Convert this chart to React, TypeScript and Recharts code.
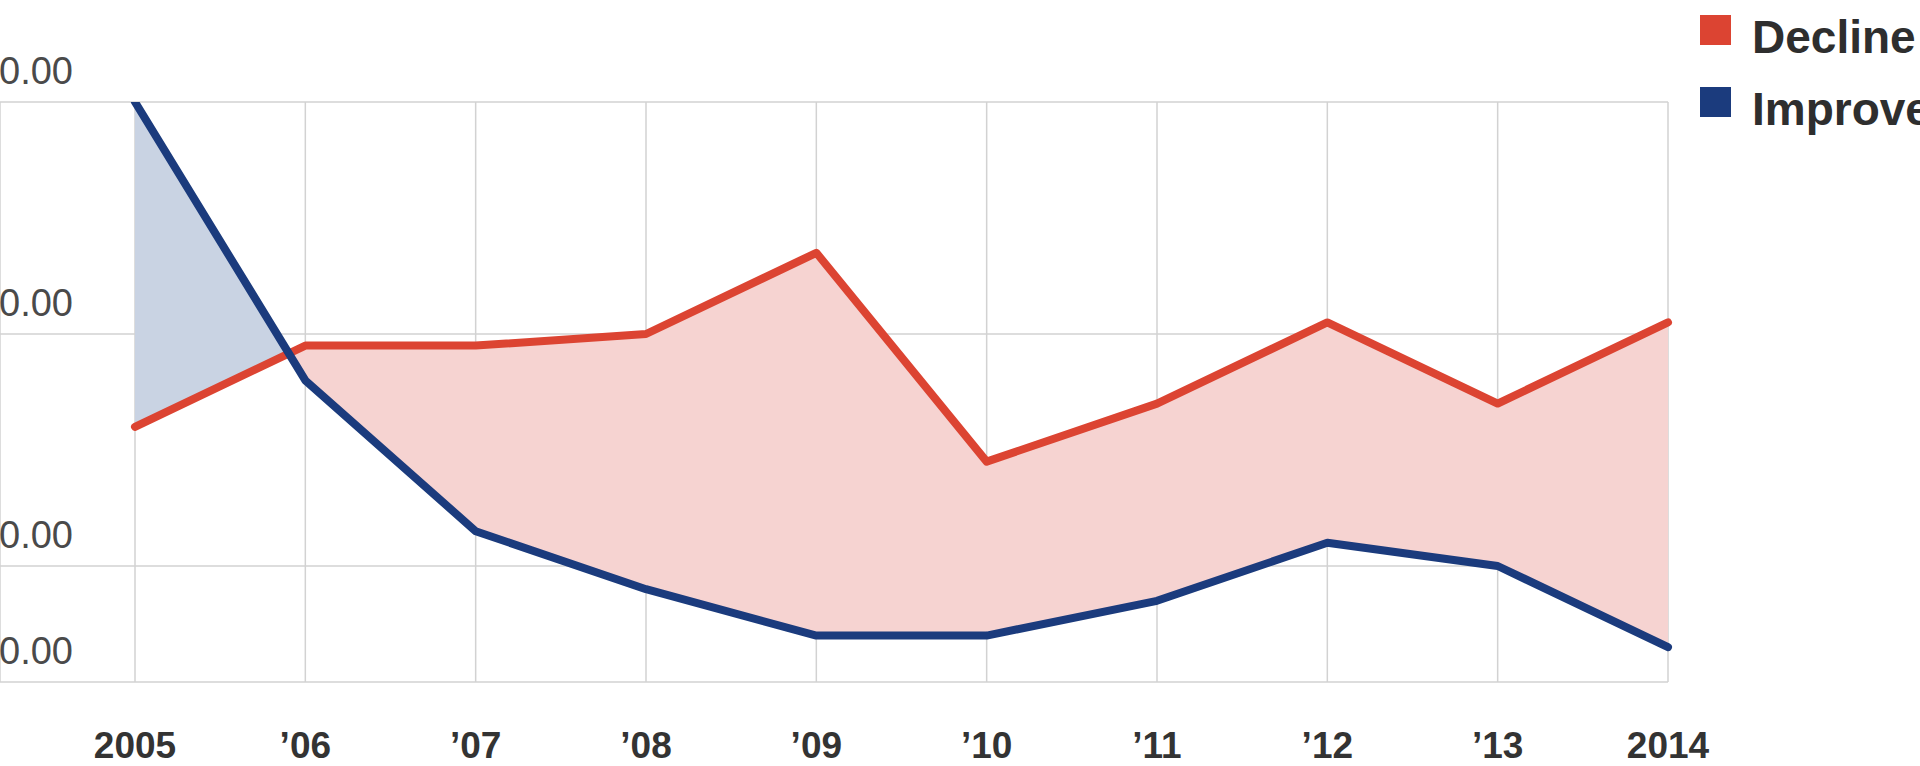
import React from 'react';
import { ComposedChart, Area, Line, XAxis, YAxis, CartesianGrid, Legend } from 'recharts';

const years = ['2005', '\u201906', '\u201907', '\u201908', '\u201909', '\u201910', '\u201911', '\u201912', '\u201913', '2014'];
const decline = [52, 59, 59, 60, 67, 49, 54, 61, 54, 61];
const improvement = [80, 56, 43, 38, 34, 34, 37, 42, 40, 33];
const yTicks = [30, 40, 60, 80];
const seriesNames = ['Decline', 'Improvement'];

const RED = '#dc4432';
const BLUE = '#1b3b7d';
const RED_FILL = '#f6d3d1';
const BLUE_FILL = '#c9d3e3';
const GRID = '#d2d2d2';
const FONT = '"Liberation Sans", Arial, Helvetica, sans-serif';

// band goes from decline to improvement; where the lines cross the polygon
// becomes a bow-tie and each lobe is coloured by the gradient below
const data = years.map((year, i) => ({
  year,
  decline: decline[i],
  improvement: improvement[i],
  band: [decline[i], improvement[i]],
}));

// fraction along x (0..1) where the two series cross (first sign change)
function crossFraction(): number {
  for (let i = 0; i < years.length - 1; i++) {
    const d0 = improvement[i] - decline[i];
    const d1 = improvement[i + 1] - decline[i + 1];
    if (d0 === 0) return i / (years.length - 1);
    if (d0 * d1 < 0) {
      const t = d0 / (d0 - d1);
      return (i + t) / (years.length - 1);
    }
  }
  return 0;
}
const cross = crossFraction();

const XTick = (props: any) => {
  const { x, y, payload } = props;
  return (
    <text x={x} y={y + 76} textAnchor="middle" fontFamily={FONT} fontWeight="bold" fontSize={37} fill="#333">
      {payload.value}
    </text>
  );
};

const YTick = (props: any) => {
  const { y, payload } = props;
  return (
    <text x={73} y={y - 18} textAnchor="end" fontFamily={FONT} fontSize={38} fill="#4a4a4a">
      {Number(payload.value).toFixed(2)}
    </text>
  );
};

const legendColors = [RED, BLUE];

const LegendContent = () => (
  <div style={{ fontFamily: FONT, fontWeight: 'bold', fontSize: 46, color: '#2e2e2e', whiteSpace: 'nowrap' }}>
    {seriesNames.map((name, i) => (
      <div key={name} style={{ display: 'flex', alignItems: 'flex-start', height: 72 }}>
        <span style={{ display: 'inline-block', width: 31, height: 30, background: legendColors[i], marginTop: 14, marginRight: 21, flex: 'none' }} />
        <span style={{ lineHeight: '72px' }}>{name}</span>
      </div>
    ))}
  </div>
);

export default function App() {
  return (
    <div style={{ position: 'absolute', left: 0, top: 0, width: 1920, height: 766, overflow: 'hidden', background: '#fff' }}>
      <ComposedChart width={1920} height={766} data={data} margin={{ top: 102, right: 252, bottom: 0, left: -1 }}>
        <defs>
          <linearGradient id="bandFill" x1="0" y1="0" x2="1" y2="0">
            <stop offset={0} stopColor={BLUE_FILL} />
            <stop offset={cross} stopColor={BLUE_FILL} />
            <stop offset={cross} stopColor={RED_FILL} />
            <stop offset={1} stopColor={RED_FILL} />
          </linearGradient>
        </defs>
        <CartesianGrid stroke={GRID} strokeWidth={1.5} />
        <XAxis
          dataKey="year"
          scale="point"
          padding={{ left: 135, right: 0 }}
          axisLine={false}
          tickLine={false}
          tickSize={0}
          tickMargin={0}
          height={84}
          interval={0}
          tick={<XTick />}
        />
        <YAxis
          domain={[30, 80]}
          ticks={yTicks}
          width={1}
          interval={0}
          axisLine={false}
          tickLine={false}
          tick={<YTick />}
          allowDataOverflow
        />
        <Legend
          layout="vertical"
          align="center"
          verticalAlign="middle"
          wrapperStyle={{ left: 1700, top: 1, width: 400, height: 150 }}
          content={<LegendContent />}
        />
        <Area dataKey="band" type="linear" stroke="none" fill="url(#bandFill)" fillOpacity={1} isAnimationActive={false} legendType="none" />
        <Line dataKey="decline" name={seriesNames[0]} type="linear" stroke={RED} strokeWidth={8} dot={false} strokeLinejoin="round" strokeLinecap="round" isAnimationActive={false} />
        <Line dataKey="improvement" name={seriesNames[1]} type="linear" stroke={BLUE} strokeWidth={8} dot={false} strokeLinejoin="round" strokeLinecap="round" isAnimationActive={false} />
      </ComposedChart>
    </div>
  );
}
